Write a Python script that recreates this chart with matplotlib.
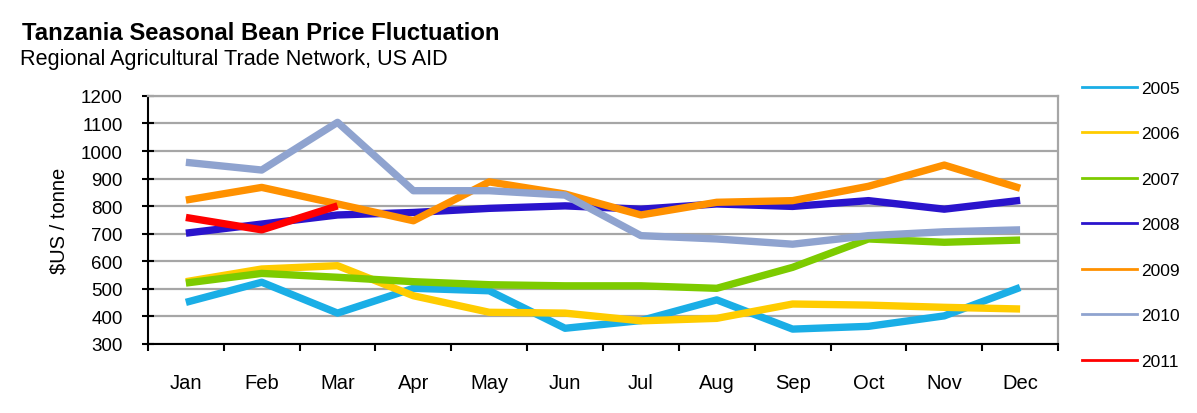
import matplotlib.pyplot as plt
from matplotlib.lines import Line2D

plt.rcParams['font.family'] = ['Liberation Sans', 'DejaVu Sans']

# Monthly bean prices ($US / tonne)
months = ["Jan", "Feb", "Mar", "Apr", "May", "Jun", "Jul", "Aug", "Sep", "Oct", "Nov", "Dec"]
years = ["2005", "2006", "2007", "2008", "2009", "2010", "2011"]
p2005 = [451, 524, 412, 502, 493, 357, 385, 460, 354, 364, 402, 505]
p2006 = [526, 572, 584, 475, 415, 412, 384, 393, 445, 441, 433, 427]
p2007 = [521, 556, 542, 526, 515, 511, 511, 502, 578, 681, 669, 677]
p2008 = [702, 735, 768, 777, 792, 801, 789, 808, 799, 820, 789, 821]
p2009 = [822, 868, 808, 747, 888, 844, 768, 814, 820, 872, 949, 865]
p2010 = [959, 931, 1104, 856, 856, 840, 693, 681, 662, 693, 707, 714]
p2011 = [759, 714, 801]
series = [p2005, p2006, p2007, p2008, p2009, p2010, p2011]
colors = ["#1AAEE6", "#FFCC00", "#7DCB00", "#2A14CC", "#FF9100", "#8FA3CF", "#FF0000"]

fig = plt.figure(figsize=(11.97, 4.14), dpi=100)
ax = fig.add_axes([0.1236, 0.1667, 0.7603, 0.5993])

# Draw older years first so later ones sit on top
for vals, col in zip(series, colors):
    ax.plot(range(len(vals)), vals, color=col, lw=5.3, solid_capstyle="butt",
            solid_joinstyle="round", zorder=3)

ax.set_xlim(-0.5, 11.5)
ax.set_ylim(300, 1200)
ax.set_yticks(range(300, 1201, 100))
ax.set_xticks(range(12))
ax.set_xticklabels(months, fontsize=14.5)
ax.set_xticks([i - 0.5 for i in range(13)], minor=True)
ax.tick_params(axis="x", which="major", length=0, pad=21)
ax.tick_params(axis="x", which="minor", length=5, width=1.5, direction="out")
ax.tick_params(axis="y", length=8, width=1.5, direction="inout", labelsize=13.5, pad=14)
ax.grid(axis="y", color="#A6A6A6", lw=1.6, zorder=1)
for side in ["left", "bottom"]:
    ax.spines[side].set_color("black")
    ax.spines[side].set_linewidth(1.5)
for side in ["top", "right"]:
    ax.spines[side].set_color("#A6A6A6")
    ax.spines[side].set_linewidth(1.6)
ax.set_ylabel("$US / tonne", fontsize=14.5, labelpad=9)

# Titles
fig.text(0.018, 0.9034, "Tanzania Seasonal Bean Price Fluctuation", fontsize=17.2,
         fontweight="bold", va="baseline")
fig.text(0.017, 0.842, "Regional Agricultural Trade Network, US AID", fontsize=15.6,
         va="baseline")

# Legend to the right of the plot
handles = [Line2D([], [], color=c, lw=2) for c in colors]
fig.legend(handles, years, loc="upper left", bbox_to_anchor=(0.898, 0.82),
           frameon=False, fontsize=12.5, handlelength=3.2, handletextpad=0.23,
           labelspacing=1.75, borderaxespad=0)

fig.savefig("out.png", dpi=100)
